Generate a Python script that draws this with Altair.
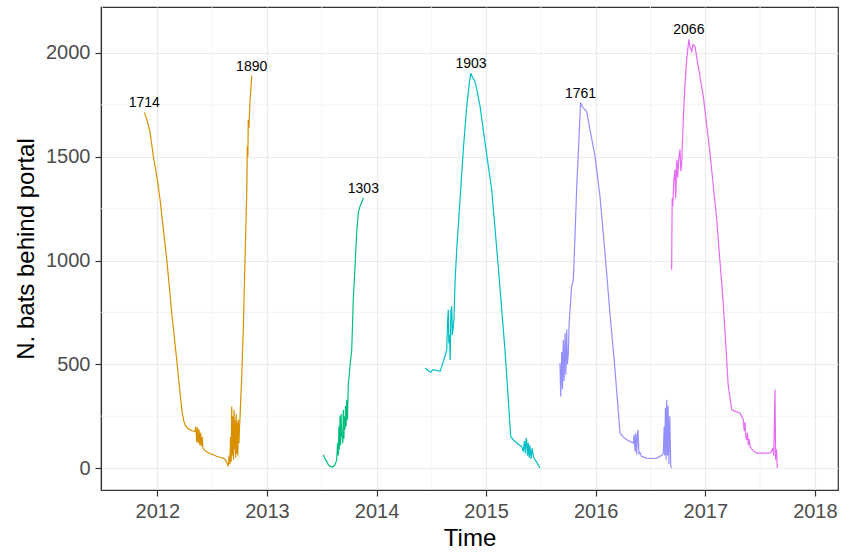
import altair as alt
import pandas as pd

# ---- data (decimal year, number of bats) ----
S1_T = [2011.881, 2011.905, 2011.933, 2011.964, 2012.000, 2012.025, 2012.055, 2012.086, 2012.110, 2012.131,
        2012.155, 2012.177, 2012.200, 2012.223, 2012.240, 2012.253, 2012.275, 2012.298, 2012.320, 2012.344,
        2012.352, 2012.360, 2012.367, 2012.374, 2012.381, 2012.388, 2012.395, 2012.402, 2012.409, 2012.416,
        2012.425, 2012.440, 2012.460, 2012.480, 2012.511, 2012.540, 2012.570, 2012.602, 2012.620, 2012.635,
        2012.648, 2012.655, 2012.662, 2012.668, 2012.674, 2012.679, 2012.684, 2012.690, 2012.695, 2012.700,
        2012.705, 2012.709, 2012.714, 2012.720, 2012.725, 2012.730, 2012.735, 2012.739, 2012.745, 2012.750,
        2012.755, 2012.770, 2012.785, 2012.800, 2012.816, 2012.821, 2012.826, 2012.830, 2012.836, 2012.846,
        2012.853, 2012.861]
S1_V = [1714, 1680, 1620, 1502, 1390, 1293, 1150, 1004, 870, 748,
        630, 522, 400, 281, 230, 209, 192, 185, 180, 175,
        200, 125, 195, 120, 185, 110, 170, 105, 150, 95,
        90, 82, 75, 70, 64, 57, 52, 48, 40, 25,
        8, 60, 20, 150, 30, 297, 60, 250, 40, 281,
        90, 230, 50, 260, 70, 220, 60, 233, 120, 200,
        249, 441, 682, 1004, 1325, 1550, 1500, 1678, 1640, 1775,
        1820, 1890]

S2_T = [2013.515, 2013.530, 2013.546, 2013.561, 2013.576, 2013.600, 2013.622, 2013.637, 2013.645, 2013.651,
        2013.657, 2013.662, 2013.667, 2013.672, 2013.677, 2013.682, 2013.687, 2013.692, 2013.697, 2013.702,
        2013.707, 2013.712, 2013.718, 2013.723, 2013.728, 2013.735, 2013.743, 2013.750, 2013.758, 2013.774,
        2013.788, 2013.804, 2013.819, 2013.834, 2013.849, 2013.863, 2013.872, 2013.880]
S2_V = [64, 45, 32, 15, 8, 5, 16, 40, 120, 60,
        200, 90, 249, 110, 260, 150, 170, 120, 281, 140,
        250, 185, 300, 200, 329, 233, 411, 440, 490, 570,
        811, 971, 1134, 1230, 1261, 1278, 1290, 1303]

S3_T = [2014.443, 2014.470, 2014.495, 2014.516, 2014.550, 2014.580, 2014.607, 2014.625, 2014.641, 2014.648,
        2014.655, 2014.660, 2014.666, 2014.672, 2014.679, 2014.686, 2014.692, 2014.698, 2014.707, 2014.716,
        2014.732, 2014.762, 2014.792, 2014.823, 2014.847, 2014.862, 2014.872, 2014.899, 2014.920, 2014.945,
        2014.990, 2015.051, 2015.111, 2015.172, 2015.203, 2015.224, 2015.250, 2015.279, 2015.300, 2015.325,
        2015.340, 2015.350, 2015.358, 2015.365, 2015.370, 2015.378, 2015.385, 2015.393, 2015.400, 2015.410,
        2015.420, 2015.431, 2015.445, 2015.460, 2015.475, 2015.492]
S3_V = [482, 470, 462, 474, 470, 466, 508, 540, 570, 700,
        763, 600, 642, 520, 760, 779, 640, 667, 720, 893,
        1053, 1293, 1534, 1743, 1857, 1903, 1887, 1863, 1810, 1743,
        1568, 1341, 971, 570, 329, 152, 135, 122, 112, 104,
        80, 130, 70, 140, 136, 60, 120, 50, 110, 45,
        95, 56, 40, 30, 15, 0]

S4_T = [2015.674, 2015.681, 2015.690, 2015.697, 2015.704, 2015.712, 2015.720, 2015.728, 2015.735, 2015.742,
        2015.750, 2015.758, 2015.766, 2015.781, 2015.796, 2015.811, 2015.827, 2015.845, 2015.862, 2015.875,
        2015.887, 2015.918, 2015.948, 2015.994, 2016.039, 2016.085, 2016.130, 2016.176, 2016.222, 2016.250,
        2016.283, 2016.343, 2016.351, 2016.359, 2016.366, 2016.374, 2016.380, 2016.386, 2016.395, 2016.404,
        2016.420, 2016.465, 2016.510, 2016.557, 2016.600, 2016.617, 2016.625, 2016.630, 2016.636, 2016.642,
        2016.648, 2016.655, 2016.661, 2016.668, 2016.676, 2016.685, 2016.693]
S4_V = [506, 345, 560, 380, 618, 420, 650, 450, 667, 500,
        546, 700, 763, 875, 908, 1116, 1357, 1560, 1761, 1745,
        1735, 1718, 1630, 1502, 1309, 1036, 747, 474, 169, 150,
        136, 120, 160, 80, 169, 64, 150, 185, 70, 74,
        56, 48, 46, 48, 60, 72, 200, 60, 290, 40,
        329, 60, 300, 20, 250, 10, 0]

S5_T = [2016.693, 2016.698, 2016.703, 2016.712, 2016.724, 2016.729, 2016.733, 2016.738, 2016.742, 2016.748,
        2016.754, 2016.760, 2016.769, 2016.777, 2016.785, 2016.799, 2016.815, 2016.830, 2016.845, 2016.850,
        2016.860, 2016.876, 2016.888, 2016.906, 2016.936, 2016.982, 2017.043, 2017.104, 2017.164, 2017.210,
        2017.241, 2017.280, 2017.317, 2017.347, 2017.355, 2017.362, 2017.370, 2017.378, 2017.385, 2017.393,
        2017.400, 2017.408, 2017.420, 2017.435, 2017.450, 2017.469, 2017.530, 2017.590, 2017.605, 2017.617,
        2017.625, 2017.630, 2017.636, 2017.642, 2017.650, 2017.657]
S5_V = [956, 1300, 1261, 1380, 1438, 1300, 1341, 1460, 1486, 1400,
        1453, 1500, 1534, 1430, 1470, 1678, 1850, 1968, 2041, 2066,
        2030, 2008, 2041, 2032, 1935, 1791, 1518, 1197, 795, 393,
        281, 272, 265, 233, 180, 220, 150, 136, 170, 110,
        140, 104, 95, 85, 78, 72, 72, 72, 80, 98,
        60, 200, 378, 40, 90, 0]

SEASONS = ["2011-12", "2013", "2014-15", "2015-16", "2016-17"]
COLORS = ["#D89000", "#00BF7D", "#00BFC4", "#9590FF", "#E76BF3"]

LABEL_T = [2011.881, 2012.861, 2013.880, 2014.862, 2015.862, 2016.850]
LABEL_V = [1714, 1890, 1303, 1903, 1761, 2066]
LABEL_SEASON = ["2011-12", "2011-12", "2013", "2014-15", "2015-16", "2016-17"]

X_TICKS = [2012, 2013, 2014, 2015, 2016, 2017, 2018]
Y_TICKS = [0, 500, 1000, 1500, 2000]
X_MINOR = [2011.5, 2012.5, 2013.5, 2014.5, 2015.5, 2016.5, 2017.5]
Y_MINOR = [250, 750, 1250, 1750]

# ---- tables ----
rows = []
for name, ts, vs in zip(SEASONS, [S1_T, S2_T, S3_T, S4_T, S5_T], [S1_V, S2_V, S3_V, S4_V, S5_V]):
    for i, (t, v) in enumerate(zip(ts, vs)):
        rows.append({"season": name, "t": t, "n": v, "i": i})
df = pd.DataFrame(rows)
lab = pd.DataFrame({"t": LABEL_T, "n": LABEL_V, "season": LABEL_SEASON,
                    "txt": [str(v) for v in LABEL_V]})
xm = pd.DataFrame({"t": X_MINOR})
ym = pd.DataFrame({"n": Y_MINOR})

FONT = "Liberation Sans"
X_DOMAIN = [2011.486, 2018.211]
Y_DOMAIN = [-105.8, 2221.6]

xenc = alt.X("t:Q", scale=alt.Scale(domain=X_DOMAIN, nice=False, zero=False),
             axis=alt.Axis(values=X_TICKS, format="d", title="Time"))
yenc = alt.Y("n:Q", scale=alt.Scale(domain=Y_DOMAIN, nice=False, zero=False),
             axis=alt.Axis(values=Y_TICKS, format="d", title="N. bats behind portal"))

minor_x = alt.Chart(xm).mark_rule(color="#F2F2F2", strokeWidth=0.8).encode(x=xenc)
minor_y = alt.Chart(ym).mark_rule(color="#F2F2F2", strokeWidth=0.8).encode(y=yenc)

lines = alt.Chart(df).mark_line(strokeWidth=1.2, clip=True).encode(
    x=xenc, y=yenc,
    color=alt.Color("season:N", scale=alt.Scale(domain=SEASONS, range=COLORS), legend=None),
    order="i:Q",
    detail="season:N",
)

texts = alt.Chart(lab).mark_text(dy=-9, fontSize=14, font=FONT, color="#000000",
                                 baseline="middle", align="center").encode(
    x=xenc, y=yenc, text="txt:N")

chart = alt.layer(minor_x, minor_y, lines, texts).properties(
    width=737, height=483,
    autosize=alt.AutoSizeParams(type="none"),
    padding={"left": 101, "top": 7, "right": 11, "bottom": 64},
    background="#FFFFFF",
).configure_view(
    stroke="#333333", strokeWidth=1.2, fill="#FFFFFF"
).configure_axis(
    labelFont=FONT, labelFontSize=20, labelColor="#4D4D4D",
    titleFont=FONT, titleFontSize=24, titleFontWeight="normal", titleColor="#000000",
    tickColor="#333333", tickSize=6, tickWidth=1.2,
    domainColor="#333333", domainWidth=1.2,
    gridColor="#EBEBEB", gridWidth=1.2,
    labelPadding=5,
).configure_axisX(
    titlePadding=5,
).configure_axisY(
    titlePadding=7,
)

chart.save("out.html", embed_options={"renderer": "svg", "actions": False})
